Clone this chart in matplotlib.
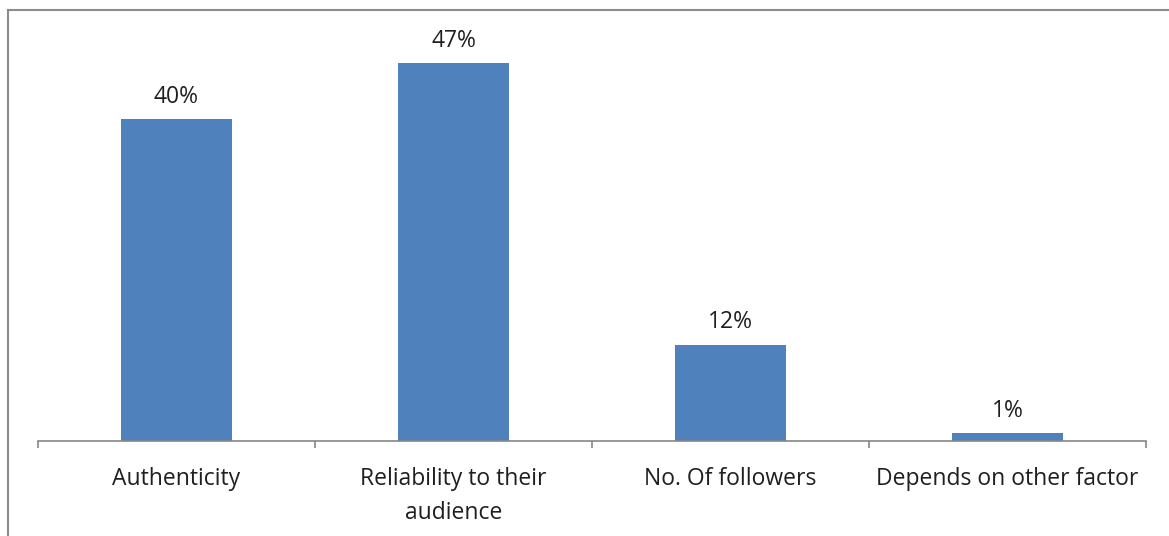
import matplotlib
matplotlib.use("Agg")
import matplotlib.pyplot as plt
from matplotlib.lines import Line2D

categories = ["Authenticity", "Reliability to their\naudience", "No. Of followers", "Depends on other factor"]
values = [40, 47, 12, 1]
value_labels = ["40%", "47%", "12%", "1%"]

bar_color = "#4F81BD"
axis_color = "#868686"
text_color = "#1f1f1f"
font = "Open Sans"

fig = plt.figure(figsize=(11.69, 5.36), dpi=100)
fig.patch.set_facecolor("white")
ax = fig.add_axes([38 / 1169, 1 - 441 / 536, 1108 / 1169, 402 / 536])

x = list(range(len(categories)))
ax.bar(x, values, width=0.4, color=bar_color, zorder=2)
ax.set_xlim(-0.5, len(categories) - 0.5)
ax.set_ylim(0, 50)

for xi, v, lab in zip(x, values, value_labels):
    ax.annotate(lab, (xi, v), xytext=(0, 16), textcoords="offset points",
                ha="center", va="center", fontsize=16.5, family=font, color=text_color)

for s in ["top", "right", "left"]:
    ax.spines[s].set_visible(False)
ax.spines["bottom"].set_color(axis_color)
ax.spines["bottom"].set_linewidth(1.2)
ax.set_yticks([])

# category boundaries carry the tick marks; labels sit at the centres
ax.set_xticks([i - 0.5 for i in range(len(categories) + 1)], minor=False)
ax.set_xticklabels([])
ax.tick_params(axis="x", which="major", direction="out", length=5, width=1.2, color=axis_color)
ax.set_xticks(x, minor=True)
ax.set_xticklabels(categories, minor=True, fontsize=16.5, family=font, color=text_color, linespacing=1.55)
ax.tick_params(axis="x", which="minor", length=0, pad=19)

# outer frame (left and top edges)
fig.add_artist(Line2D([8 / 1169, 8 / 1169], [0, 1 - 10 / 536], transform=fig.transFigure, color="#8c8c8c", lw=1.5))
fig.add_artist(Line2D([8 / 1169, 1], [1 - 10 / 536, 1 - 10 / 536], transform=fig.transFigure, color="#8c8c8c", lw=1.5))

fig.savefig("out.png", dpi=100)
